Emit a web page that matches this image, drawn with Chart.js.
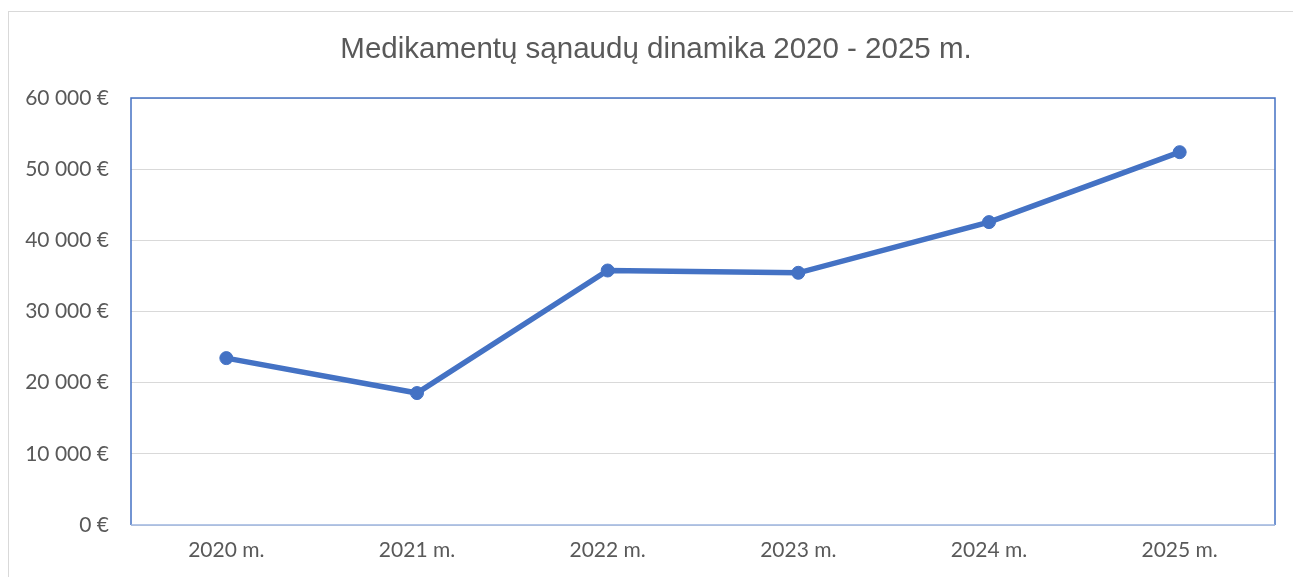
<!DOCTYPE html>
<html>
<head>
<meta charset="utf-8">
<script src="https://cdn.jsdelivr.net/npm/chart.js@4/dist/chart.umd.min.js"></script>
<style>
    html, body { margin: 0; padding: 0; background: #ffffff; overflow: hidden; }
    #wrap { position: relative; width: 1293px; height: 577px; overflow: hidden; }
    #frame { position: absolute; left: 8px; top: 11px; width: 1300px; height: 600px; border: 1px solid #d9d9d9; }
    #chart { position: absolute; left: 0; top: 0; }
</style>
</head>
<body>
<div id="wrap">
    <div id="frame"></div>
    <canvas id="chart" width="1293" height="577"></canvas>
</div>
<script>
const years = ['2020 m.', '2021 m.', '2022 m.', '2023 m.', '2024 m.', '2025 m.'];
const costs = [23450, 18540, 35760, 35440, 42560, 52390];
const chartTitle = 'Medikamentų sąnaudų dinamika 2020 - 2025 m.';

const blue = '#4472C4';
const textGray = '#595959';

function formatEuro(value) {
    return String(value).replace(/\B(?=(\d{3})+(?!\d))/g, ' ') + ' €';
}

// frame round the plot area
const plotBorder = {
    id: 'plotBorder',
    afterDraw(chart) {
        const {ctx, chartArea: a} = chart;
        ctx.save();
        ctx.strokeStyle = blue;
        ctx.lineWidth = 1.5;
        ctx.beginPath();
        ctx.moveTo(a.left, a.bottom);
        ctx.lineTo(a.left, a.top);
        ctx.lineTo(a.right, a.top);
        ctx.lineTo(a.right, a.bottom);
        ctx.stroke();
        ctx.strokeStyle = '#9db4df';
        ctx.beginPath();
        ctx.moveTo(a.left, a.bottom);
        ctx.lineTo(a.right, a.bottom);
        ctx.stroke();
        ctx.restore();
    }
};

// title centred on the whole frame, which runs past the right edge
const frameTitle = {
    id: 'frameTitle',
    afterDraw(chart) {
        const ctx = chart.ctx;
        ctx.save();
        ctx.fillStyle = textGray;
        ctx.font = '29.5px "Liberation Sans"';
        ctx.textAlign = 'center';
        ctx.textBaseline = 'middle';
        ctx.fillText(chartTitle, 656, 50);
        ctx.restore();
    }
};

const chartCanvas = document.getElementById('chart');
const costChart = new Chart(chartCanvas, {
    type: 'line',
    data: {
        labels: years,
        datasets: [{
            label: 'Sąnaudos',
            data: costs,
            borderColor: blue,
            backgroundColor: blue,
            borderWidth: 5.5,
            pointRadius: 6.5,
            pointBorderWidth: 1,
            pointBackgroundColor: blue,
            pointBorderColor: blue,
            tension: 0
        }]
    },
    options: {
        responsive: false,
        animation: false,
        layout: { padding: { left: 0, right: 18, top: 98, bottom: 0 } },
        plugins: {
            legend: { display: false },
            tooltip: { enabled: false },
            title: { display: false }
        },
        scales: {
            x: {
                offset: true,
                grid: { display: false, drawTicks: false },
                border: { display: false },
                ticks: {
                    color: textGray,
                    font: { family: 'Lato', size: 21 },
                    padding: 13
                },
                afterFit(scale) { scale.height = 52; }
            },
            y: {
                min: 0,
                max: 60000,
                grid: { color: '#d9d9d9', lineWidth: 1, drawTicks: false },
                border: { display: false },
                ticks: {
                    stepSize: 10000,
                    color: textGray,
                    font: { family: 'Lato', size: 21 },
                    padding: 22,
                    callback: v => formatEuro(v)
                },
                afterFit(scale) { scale.width = 131; }
            }
        }
    },
    plugins: [plotBorder, frameTitle]
});
</script>
</body>
</html>
